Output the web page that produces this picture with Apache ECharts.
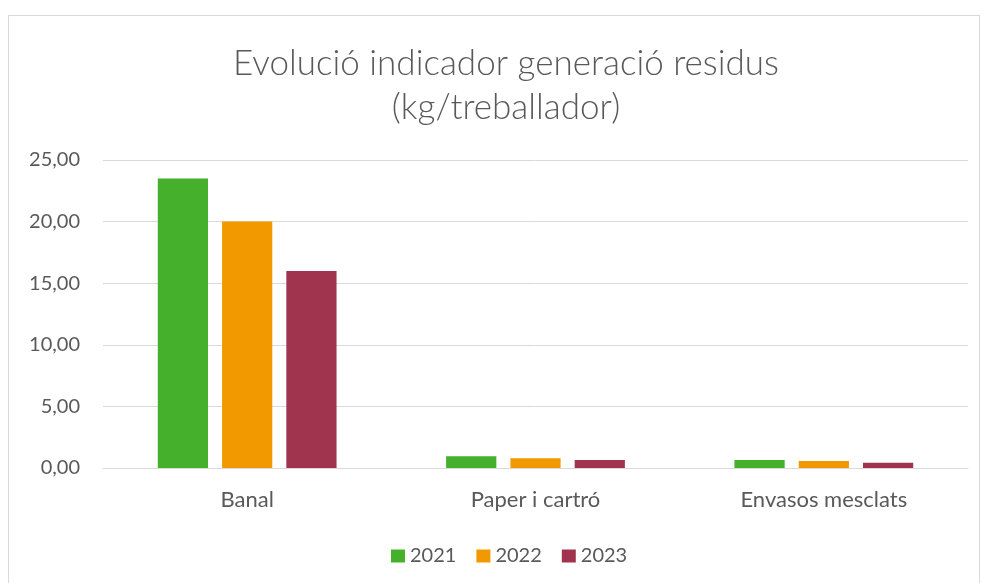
<!DOCTYPE html>
<html>
<head>
<meta charset="utf-8">
<script src="https://cdn.jsdelivr.net/npm/echarts@6/dist/echarts.min.js"></script>
<style>
html,body{margin:0;padding:0;background:#fff;}
#frame{position:absolute;left:8px;top:15px;width:972px;height:575px;border:1px solid #d9d9d9;box-sizing:border-box;}
#chart{position:absolute;left:0;top:0;width:984px;height:583px;}
</style>
</head>
<body>
<div id="frame"></div>
<div id="chart"></div>
<script>
const categories = ['Banal', 'Paper i cartró', 'Envasos mesclats'];
const seriesNames = ['2021', '2022', '2023'];
const values2021 = [23.5, 0.95, 0.65];
const values2022 = [20.0, 0.8, 0.57];
const values2023 = [16.0, 0.65, 0.43];
const colors = ['#44b02c', '#f29900', '#a0334e'];
const titleText = 'Evolució indicador generació residus\n(kg/treballador)';

const font = 'Lato, "Open Sans", sans-serif';
const chart = echarts.init(document.getElementById('chart'), null, {renderer: 'canvas'});
const data = [values2021, values2022, values2023];
chart.setOption({
  animation: false,
  color: colors,
  title: {
    text: titleText,
    left: 501,
    textAlign: 'center',
    top: 37,
    textStyle: {fontFamily: font, fontSize: 35, fontWeight: 300, color: '#595959', lineHeight: 44, align: 'center'}
  },
  legend: {
    data: seriesNames,
    top: 541,
    left: 386,
    itemWidth: 14,
    itemHeight: 13,
    itemGap: 20,
    icon: 'rect',
    textStyle: {fontFamily: font, fontSize: 20, color: '#595959', padding: [0,0,0,0]}
  },
  grid: {left: 103, right: 16, top: 160, bottom: 115, containLabel: false},
  xAxis: {
    type: 'category',
    data: categories,
    axisLine: {lineStyle: {color: '#d9d9d9', width: 1}},
    axisTick: {show: false},
    axisLabel: {fontFamily: font, fontSize: 22, color: '#595959', margin: 21}
  },
  yAxis: {
    type: 'value',
    min: 0,
    max: 25,
    interval: 5,
    axisLine: {show: false},
    axisTick: {show: false},
    splitLine: {lineStyle: {color: '#d9d9d9', width: 1}},
    axisLabel: {
      fontFamily: font, fontSize: 20, color: '#595959', margin: 23,
      formatter: v => v.toFixed(2).replace('.', ',')
    }
  },
  series: seriesNames.map((n, i) => ({
    name: n,
    type: 'bar',
    data: data[i],
    barCategoryGap: '38%',
    barGap: '28%',
    itemStyle: {color: colors[i]}
  }))
});
</script>
</body>
</html>
